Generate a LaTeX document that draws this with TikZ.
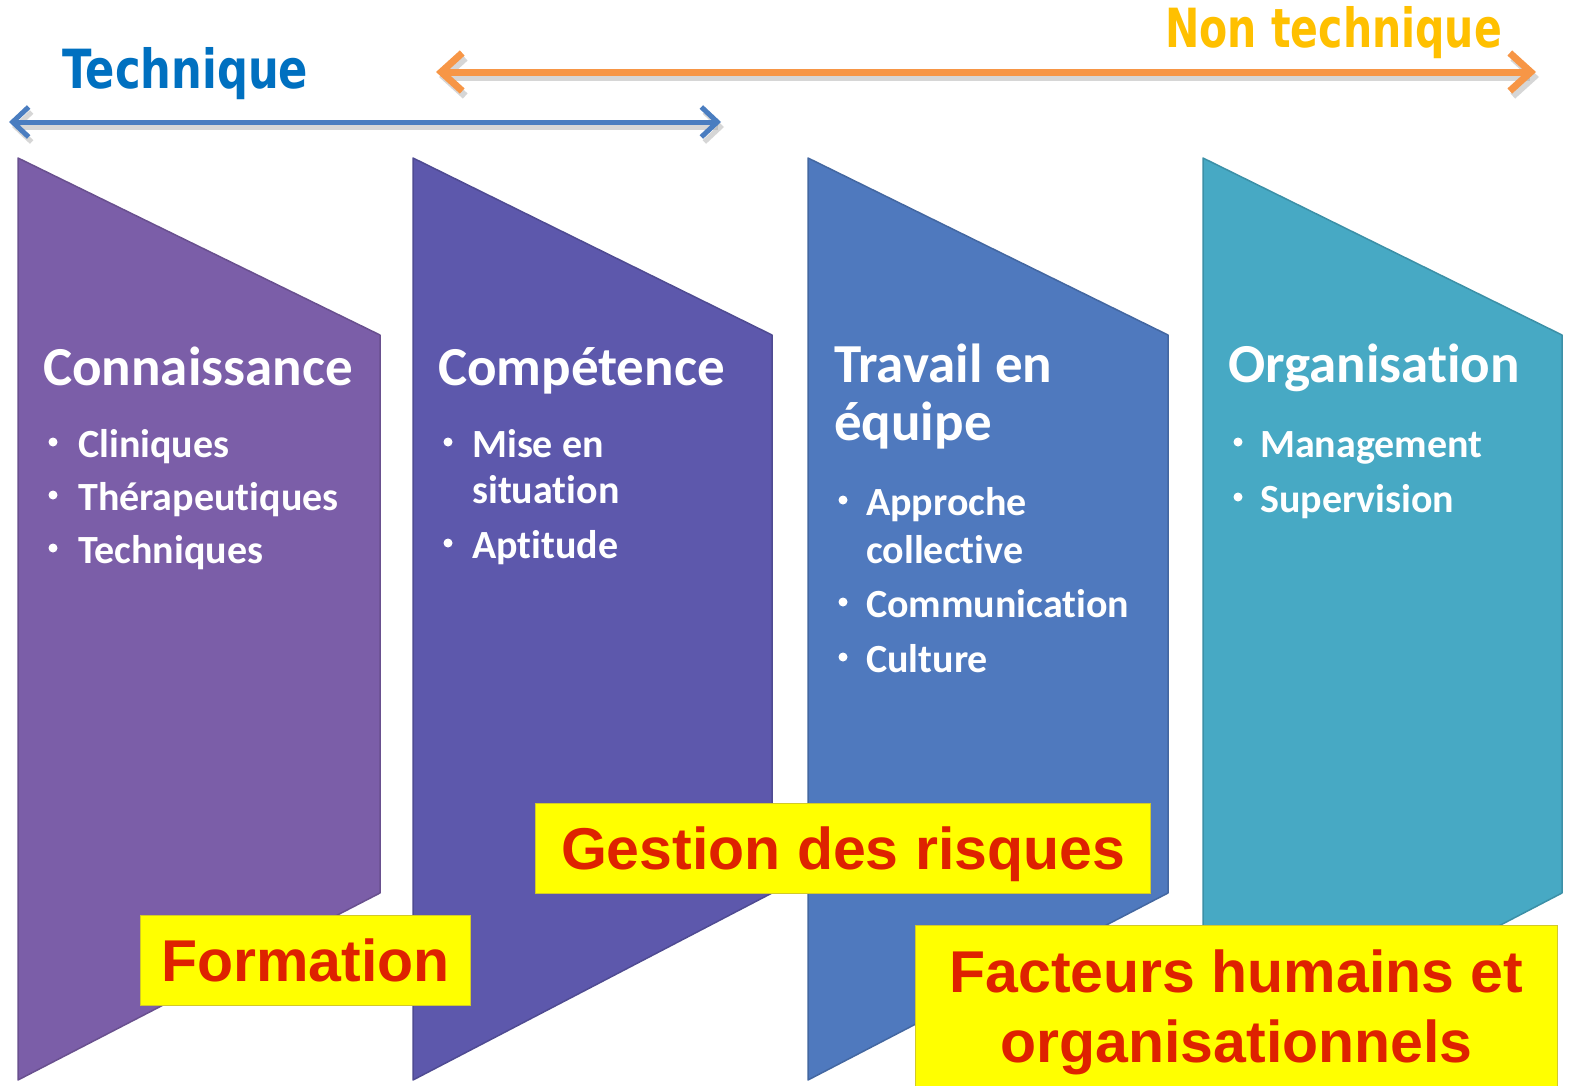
\documentclass[tikz,border=0pt]{standalone}
\usepackage{fontspec}
\usepackage{graphicx}
\setmainfont{Carlito}[Ligatures={NoCommon,NoContextual}]
\newfontfamily\boxfont{Liberation Sans}
\newfontfamily\topfont{DejaVu Sans}
\usetikzlibrary{arrows.meta}
\definecolor{colA}{HTML}{7B5EA8}
\definecolor{colB}{HTML}{5D58AC}
\definecolor{colC}{HTML}{4F79BE}
\definecolor{colD}{HTML}{47A9C4}
\definecolor{arrBlue}{HTML}{4A7DC0}
\definecolor{arrOrange}{HTML}{F79646}
\definecolor{txtBlue}{HTML}{0070C0}
\definecolor{txtGold}{HTML}{FFC000}
\definecolor{boxRed}{HTML}{DE2200}
\definecolor{boxYellow}{HTML}{FFFF00}
\tikzset{
  colshape/.style={line width=1.5pt, line join=round},
  coltitle/.style={anchor=base west, inner sep=0pt, text=white, font=\fontsize{55}{60}\selectfont\bfseries},
  colitem/.style={anchor=base west, inner sep=0pt, text=white, font=\fontsize{40}{45}\selectfont\bfseries},
  bul/.style={circle, fill=white, inner sep=0pt, minimum size=9pt},
  ybox/.style={draw=yellow!80!black, line width=1pt, fill=boxYellow, text=boxRed, inner sep=0pt,
     anchor=north west, font=\fontsize{59}{70}\selectfont\boxfont\bfseries, text depth=0pt, align=center},
  toplabel/.style={inner sep=0pt, anchor=base west, font=\fontsize{54}{60}\selectfont\topfont\bfseries},
  arrshadow/.style={draw=black!35, opacity=0.45, transform canvas={shift={(3pt,-5pt)}}},
}
\begin{document}
\begin{tikzpicture}[x=1pt,y=-1pt]
\useasboundingbox (0,0) rectangle (1569,1085);
\fill[white] (0,0) rectangle (1569,1085);

% columns
\path[colshape, fill=colA, draw=colA!85!black] (18,158) -- (380,335) -- (380,893) -- (18,1080) -- cycle;
\path[colshape, fill=colB, draw=colB!85!black] (413,158) -- (772,335) -- (772,893) -- (413,1080) -- cycle;
\path[colshape, fill=colC, draw=colC!85!black] (808,158) -- (1168,335) -- (1168,893) -- (808,1080) -- cycle;
\path[colshape, fill=colD, draw=colD!85!black] (1203,158) -- (1562,335) -- (1562,893) -- (1203,1080) -- cycle;

% column 1
\node[coltitle] (t1) at (43,385) {Connaissance};
\node[bul] (b11) at (53,442) {};
\node[colitem] (i11) at (78,457) {Cliniques};
\node[bul] (b12) at (53,495) {};
\node[colitem] (i12) at (78,510) {Thérapeutiques};
\node[bul] (b13) at (53,548) {};
\node[colitem] (i13) at (78,563) {Techniques};

% column 2
\node[coltitle] (t2) at (438,385) {Compétence};
\node[bul] (b21) at (448,442) {};
\node[colitem] (i21) at (472,457) {Mise en};
\node[colitem] (i21b) at (472,503) {situation};
\node[bul] (b22) at (448,543) {};
\node[colitem] (i22) at (472,558) {Aptitude};

% column 3
\node[coltitle] (t3) at (834,382) {Travail en};
\node[coltitle] (t3b) at (834,440) {équipe};
\node[bul] (b31) at (843,500) {};
\node[colitem] (i31) at (866,515) {Approche};
\node[colitem] (i31b) at (866,563) {collective};
\node[bul] (b32) at (843,602) {};
\node[colitem] (i32) at (866,617) {Communication};
\node[bul] (b33) at (843,657) {};
\node[colitem] (i33) at (866,672) {Culture};

% column 4
\node[coltitle] (t4) at (1228,382) {Organisation};
\node[bul] (b41) at (1238,442) {};
\node[colitem] (i41) at (1260,457) {Management};
\node[bul] (b42) at (1238,497) {};
\node[colitem] (i42) at (1260,512) {Supervision};

% yellow boxes
\node[ybox, minimum width=330pt, minimum height=90pt] (form) at (140,915) {Formation};
\node[ybox, minimum width=615pt, minimum height=90pt] (gest) at (535,803) {Gestion des risques};
\node[ybox, minimum width=642pt, minimum height=162pt] (fact) at (915,925) {Facteurs humains et\\organisationnels};

% top labels
\node[toplabel, text=txtBlue] (tech) at (62,88) {\scalebox{0.80}[1]{Technique}};
\node[toplabel, text=txtGold] (ntech) at (1165,47) {\scalebox{0.76}[1]{Non technique}};

% arrows
\coordinate (bl) at (9,122);
\coordinate (br) at (721,122);
\coordinate (ol) at (436,72);
\coordinate (or) at (1536,72);
\draw[arrshadow, line width=5pt, {Straight Barb[length=16pt,width=30pt]}-{Straight Barb[length=16pt,width=30pt]}] (bl) -- (br);
\draw[arrshadow, line width=7pt, {Straight Barb[length=21pt,width=38pt]}-{Straight Barb[length=21pt,width=38pt]}] (ol) -- (or);
\draw[arrBlue, line width=5pt, {Straight Barb[length=16pt,width=30pt]}-{Straight Barb[length=16pt,width=30pt]}] (bl) -- (br);
\draw[arrOrange, line width=7pt, {Straight Barb[length=21pt,width=38pt]}-{Straight Barb[length=21pt,width=38pt]}] (ol) -- (or);
\end{tikzpicture}
\end{document}
